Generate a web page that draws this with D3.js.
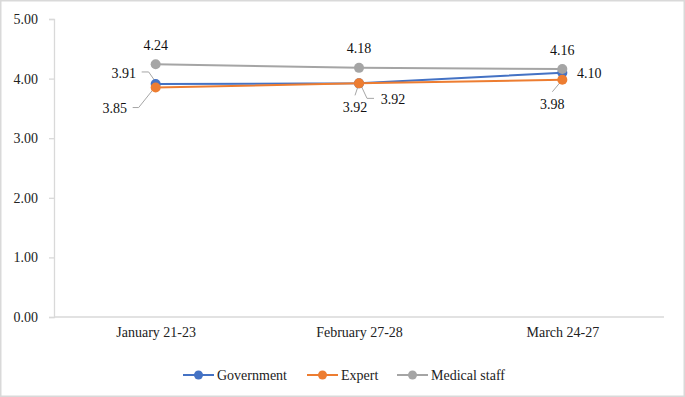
<!DOCTYPE html>
<html lang="en">
<head>
<meta charset="utf-8">
<script src="https://d3js.org/d3.v7.min.js"></script>
<style>
  body { margin: 0; background: #fff; }
  svg { display: block; }
  svg text { font-family: "Liberation Serif", "Times New Roman", serif; }
</style>
</head>
<body>
<svg id="chart" width="685" height="397"></svg>
<script>
// data
var categories = ["January 21-23", "February 27-28", "March 24-27"];
var seriesNames = ["Government", "Expert", "Medical staff"];
var government = [3.91, 3.92, 4.10];
var expert = [3.85, 3.92, 3.98];
var medical = [4.24, 4.18, 4.16];
var yTicks = [0, 1, 2, 3, 4, 5];

var colors = ["#4472c4", "#ed7d31", "#a5a5a5"];
var series = [government, expert, medical];

// label offsets (px) from each point, and leader line vertices
var labelOffsets = [
  [[-32, -11], [34, 16], [27, 0]],
  [[-41, 21], [-4, 24], [-10, 24]],
  [[0, -19], [0, -20], [0, -19]]
];
var leaders = [
  [[[-14, -12], [-7, -12], [0, -2]], [[1, 0], [8, 15], [15, 15]], null],
  [[[-23, 20], [-17, 20], [-1, 0]], [[0, 0], [-4, 12]], [[0, 0], [-10, 12]]],
  [null, null, null]
];

var svg = d3.select("#chart");
var mLeft = 54, mRight = 664, mTop = 19, mBottom = 317;
var serif = "Liberation Serif";

// frame
svg.append("rect")
  .attr("x", 0.75).attr("y", 0.75)
  .attr("width", 683.5).attr("height", 395.5)
  .attr("fill", "none").attr("stroke", "#d9d9d9").attr("stroke-width", 1.5);

var x = d3.scalePoint().domain(categories).range([mLeft, mRight]).padding(0.5);
var y = d3.scaleLinear().domain([0, 5]).range([mBottom, mTop]);

// y axis
var yAxis = svg.append("g")
  .attr("transform", "translate(" + mLeft + ",0)")
  .call(d3.axisLeft(y).tickValues(yTicks).tickFormat(d3.format(".2f")).tickSize(5).tickPadding(11));
yAxis.attr("font-family", serif);
yAxis.select(".domain").attr("stroke", "#d9d9d9").attr("stroke-width", 1.3);
yAxis.selectAll(".tick line").attr("stroke", "#d9d9d9").attr("stroke-width", 1.3);
yAxis.selectAll(".tick text").attr("font-size", 14).attr("fill", "#222");

// x axis
var xAxis = svg.append("g")
  .attr("transform", "translate(0," + mBottom + ")")
  .call(d3.axisBottom(x).tickSize(0).tickPadding(10));
xAxis.attr("font-family", serif);
xAxis.select(".domain").attr("d", "M" + mLeft + ",0H" + mRight)
  .attr("stroke", "#d9d9d9").attr("stroke-width", 1.3);
xAxis.selectAll(".tick text").attr("font-size", 14).attr("fill", "#222");

var line = d3.line()
  .x(function (d, i) { return x(categories[i]); })
  .y(function (d) { return y(d); });

// leader lines first
var leaderLine = d3.line();
series.forEach(function (vals, s) {
  vals.forEach(function (v, i) {
    var pts = leaders[s][i];
    if (!pts) return;
    var px = x(categories[i]), py = y(v);
    svg.append("path")
      .attr("d", leaderLine(pts.map(function (p) { return [px + p[0], py + p[1]]; })))
      .attr("fill", "none").attr("stroke", "#a6a6a6").attr("stroke-width", 1);
  });
});

series.forEach(function (vals, s) {
  svg.append("path")
    .datum(vals)
    .attr("d", line)
    .attr("fill", "none")
    .attr("stroke", colors[s])
    .attr("stroke-width", 2);
  svg.selectAll(".pt" + s)
    .data(vals)
    .enter()
    .append("circle")
    .attr("class", "pt" + s)
    .attr("cx", function (d, i) { return x(categories[i]); })
    .attr("cy", function (d) { return y(d); })
    .attr("r", 5)
    .attr("fill", colors[s]);
});

// data labels
series.forEach(function (vals, s) {
  svg.selectAll(".lbl" + s)
    .data(vals)
    .enter()
    .append("text")
    .attr("class", "lbl" + s)
    .attr("x", function (d, i) { return x(categories[i]) + labelOffsets[s][i][0]; })
    .attr("y", function (d, i) { return y(d) + labelOffsets[s][i][1]; })
    .attr("dy", "0.35em")
    .attr("text-anchor", "middle")
    .attr("font-family", serif)
    .attr("font-size", 14)
    .attr("fill", "#111")
    .text(function (d) { return d3.format(".2f")(d); });
});

// legend
var legendX = [183, 307, 397];
var legend = svg.append("g");
seriesNames.forEach(function (name, s) {
  var g = legend.append("g").attr("transform", "translate(" + legendX[s] + ",375)");
  g.append("line").attr("x1", 0).attr("x2", 31).attr("y1", 0).attr("y2", 0)
    .attr("stroke", colors[s]).attr("stroke-width", 2);
  g.append("circle").attr("cx", 15.5).attr("cy", 0).attr("r", 4.5).attr("fill", colors[s]);
  g.append("text").attr("x", 34).attr("y", 0).attr("dy", "0.35em")
    .attr("font-family", serif)
    .attr("font-size", 14).attr("fill", "#222").text(name);
});
</script>
</body>
</html>
